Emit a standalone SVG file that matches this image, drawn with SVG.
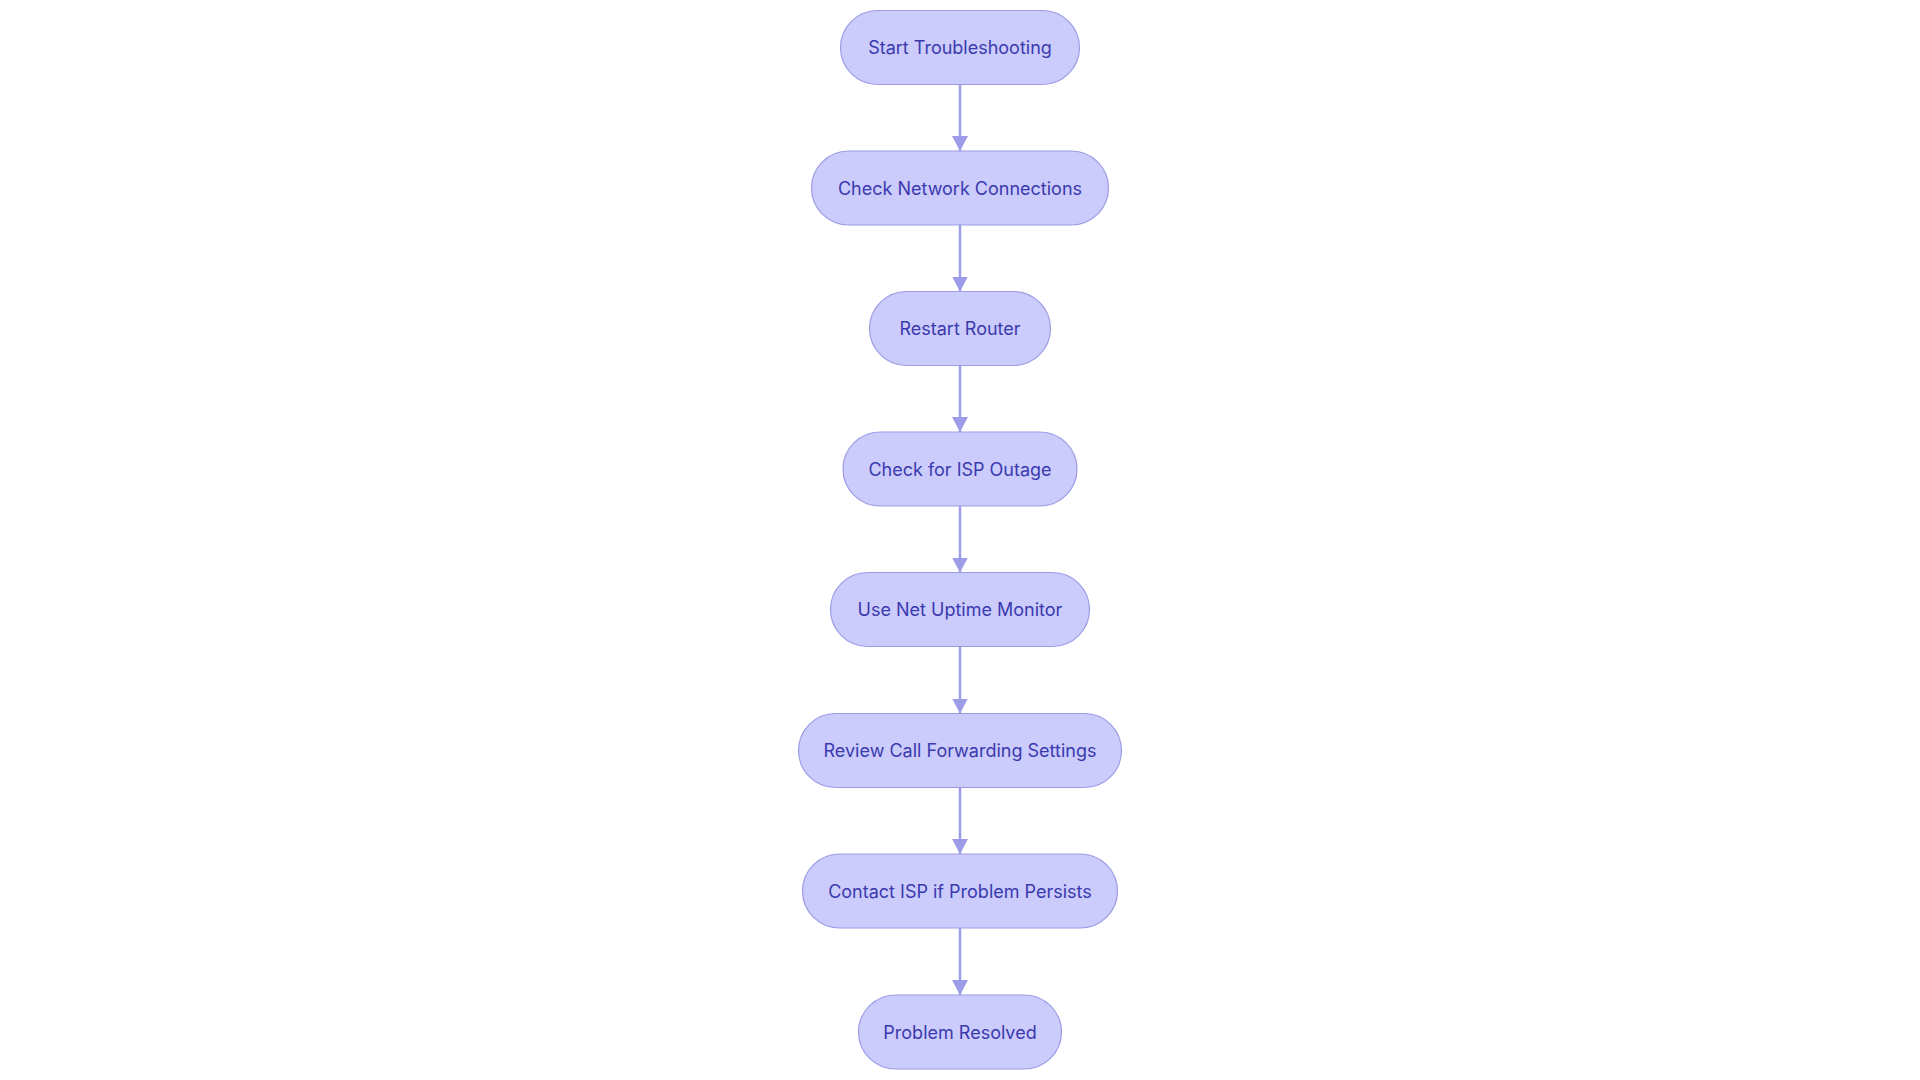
<svg xmlns="http://www.w3.org/2000/svg" width="1920" height="1080" viewBox="0 0 1920 1080">
<style>
.node rect{fill:#cbcbfc;stroke:#9c9ce6;stroke-width:1.2}
.node text{font-family:Inter,"Noto Sans",sans-serif;font-size:18px;fill:#3a3aae;text-anchor:middle;dominant-baseline:central}
.edge{stroke:#9c9ce8;stroke-width:2.5;fill:none}
</style>
<defs>
<marker id="arr" viewBox="0 0 15 16" refX="15" refY="8" markerWidth="15" markerHeight="16" markerUnits="userSpaceOnUse" orient="auto">
<path d="M0,0 L15,8 L0,16 z" fill="#9c9ce8"/>
</marker>
</defs>
<rect width="1920" height="1080" fill="#ffffff"/>
<g id="connectors">
<line class="edge" x1="960" y1="84.5" x2="960" y2="151" marker-end="url(#arr)"/>
<line class="edge" x1="960" y1="225" x2="960" y2="291.5" marker-end="url(#arr)"/>
<line class="edge" x1="960" y1="365.5" x2="960" y2="432" marker-end="url(#arr)"/>
<line class="edge" x1="960" y1="506" x2="960" y2="572.5" marker-end="url(#arr)"/>
<line class="edge" x1="960" y1="646.5" x2="960" y2="713.5" marker-end="url(#arr)"/>
<line class="edge" x1="960" y1="787.5" x2="960" y2="854" marker-end="url(#arr)"/>
<line class="edge" x1="960" y1="928" x2="960" y2="995" marker-end="url(#arr)"/>
</g>
<g id="n1" class="node"><rect x="840.5" y="10.5" width="239" height="74" rx="37"/><text x="960" y="47.5">Start Troubleshooting</text></g>
<g id="n2" class="node"><rect x="811.5" y="151" width="297" height="74" rx="37"/><text x="960" y="188">Check Network Connections</text></g>
<g id="n3" class="node"><rect x="869.5" y="291.5" width="181" height="74" rx="37"/><text x="960" y="328.5">Restart Router</text></g>
<g id="n4" class="node"><rect x="843" y="432" width="234" height="74" rx="37"/><text x="960" y="469">Check for ISP Outage</text></g>
<g id="n5" class="node"><rect x="830.5" y="572.5" width="259" height="74" rx="37"/><text x="960" y="609.5">Use Net Uptime Monitor</text></g>
<g id="n6" class="node"><rect x="798.5" y="713.5" width="323" height="74" rx="37"/><text x="960" y="750.5">Review Call Forwarding Settings</text></g>
<g id="n7" class="node"><rect x="802.5" y="854" width="315" height="74" rx="37"/><text x="960" y="891">Contact ISP if Problem Persists</text></g>
<g id="n8" class="node"><rect x="858.5" y="995" width="203" height="74" rx="37"/><text x="960" y="1032">Problem Resolved</text></g>
</svg>
